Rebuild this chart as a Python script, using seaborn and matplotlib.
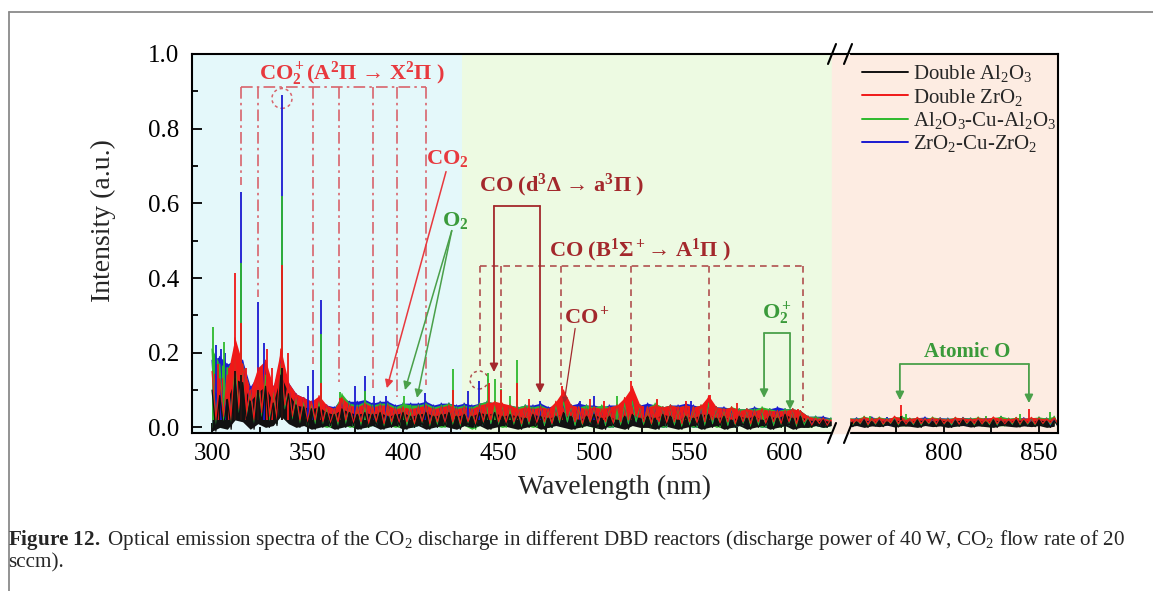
import numpy as np
import pandas as pd
import matplotlib
matplotlib.use('Agg')
import matplotlib.pyplot as plt
from matplotlib.lines import Line2D
from matplotlib.patches import Ellipse, Rectangle
from matplotlib.ticker import MultipleLocator, FixedLocator
import seaborn as sns

sns.set_theme(style='ticks')
plt.rcParams['font.family'] = ['Liberation Serif', 'DejaVu Serif']
plt.rcParams['mathtext.fontset'] = 'custom'
plt.rcParams['mathtext.rm'] = 'Liberation Serif'
plt.rcParams['mathtext.it'] = 'Liberation Serif:italic'
plt.rcParams['mathtext.bf'] = 'Liberation Serif:bold'
plt.rcParams['mathtext.default'] = 'regular'

# ---- data ----
# continuum sampling grid: 300-624 nm window, then 750-858 nm window
wl_grid = np.concatenate([np.arange(300, 625, 4), np.arange(750, 859, 4)])

reactors = ['Double Al$_2$O$_3$', 'Double ZrO$_2$',
            'Al$_2$O$_3$-Cu-Al$_2$O$_3$', 'ZrO$_2$-Cu-ZrO$_2$']
colors = ['#111111', '#f01818', '#2db92d', '#1a1ad0']

# upper / lower edge of the noise band, per reactor
black_hi = [0.10, 0.085, 0.075, 0.13, 0.12, 0.07, 0.095, 0.11, 0.065, 0.14,
            0.09, 0.06, 0.055, 0.05, 0.055, 0.04, 0.035, 0.05, 0.04, 0.035,
            0.04, 0.035, 0.04, 0.03, 0.035, 0.04, 0.03, 0.035, 0.04, 0.03,
            0.035, 0.04, 0.03, 0.035, 0.03, 0.04, 0.035, 0.04, 0.03, 0.035,
            0.03, 0.025, 0.035, 0.03, 0.025, 0.03, 0.04, 0.03, 0.02, 0.03,
            0.035, 0.025, 0.03, 0.02, 0.03, 0.035, 0.025, 0.03, 0.025, 0.035,
            0.03, 0.02, 0.03, 0.025, 0.035, 0.035, 0.025, 0.03, 0.02, 0.03,
            0.025, 0.03, 0.02, 0.03, 0.025, 0.035, 0.025, 0.03, 0.02, 0.018,
            0.02, 0.015,
            0.018, 0.015, 0.02, 0.016, 0.018, 0.015, 0.02, 0.017, 0.015, 0.02,
            0.018, 0.016, 0.02, 0.015, 0.018, 0.02, 0.016, 0.018, 0.015, 0.02,
            0.017, 0.016, 0.02, 0.018, 0.015, 0.02, 0.017, 0.018]
black_lo = [-0.01, 0.0, -0.005, 0.02, 0.015, -0.005, 0.01, 0.0, 0.005, 0.03,
            0.01, 0.0, 0.005, -0.005, 0.0, 0.005, -0.005, 0.0, 0.005, -0.005,
            0.0, 0.005, -0.005, 0.0, 0.005, -0.005, 0.0, 0.005, -0.005, 0.0,
            0.005, 0.0, -0.005, 0.005, 0.0, 0.005, -0.005, 0.0, 0.005, 0.0,
            -0.005, 0.0, 0.005, -0.005, 0.0, 0.005, 0.0, -0.005, 0.0, 0.005,
            0.0, -0.005, 0.005, 0.0, -0.005, 0.005, 0.0, 0.0, -0.005, 0.005,
            0.0, -0.005, 0.0, 0.005, -0.005, 0.0, 0.005, -0.005, 0.0, 0.005,
            -0.005, 0.0, 0.005, -0.005, 0.0, 0.005, -0.005, 0.0, 0.0, 0.005,
            0.0, 0.005,
            0.002, 0.005, 0.0, 0.004, 0.002, 0.006, 0.001, 0.004, 0.003, 0.0,
            0.005, 0.002, 0.004, 0.0, 0.003, 0.005, 0.001, 0.004, 0.002, 0.0,
            0.005, 0.003, 0.001, 0.004, 0.002, 0.005, 0.0, 0.003]

red_hi = [0.15, 0.13, 0.14, 0.24, 0.17, 0.10, 0.16, 0.18, 0.11, 0.21,
          0.12, 0.09, 0.08, 0.07, 0.085, 0.06, 0.05, 0.08, 0.06, 0.055,
          0.065, 0.055, 0.06, 0.06, 0.05, 0.055, 0.05, 0.055, 0.06, 0.05,
          0.055, 0.06, 0.05, 0.055, 0.05, 0.06, 0.065, 0.07, 0.065, 0.06,
          0.05, 0.055, 0.05, 0.055, 0.05, 0.07, 0.10, 0.06, 0.055, 0.05,
          0.055, 0.05, 0.055, 0.06, 0.08, 0.11, 0.06, 0.055, 0.06, 0.055,
          0.06, 0.055, 0.06, 0.055, 0.06, 0.085, 0.055, 0.05, 0.055, 0.045,
          0.05, 0.045, 0.05, 0.045, 0.045, 0.045, 0.05, 0.045, 0.03, 0.025,
          0.025, 0.02,
          0.025, 0.022, 0.028, 0.024, 0.026, 0.022, 0.03, 0.025, 0.024, 0.027,
          0.023, 0.026, 0.024, 0.022, 0.027, 0.025, 0.023, 0.026, 0.024, 0.028,
          0.025, 0.023, 0.026, 0.024, 0.027, 0.025, 0.023, 0.026]
red_lo = [0.02, 0.03, 0.02, 0.05, 0.04, 0.02, 0.04, 0.03, 0.02, 0.06,
          0.03, 0.02, 0.015, 0.02, 0.015, 0.01, 0.015, 0.02, 0.01, 0.015,
          0.01, 0.015, 0.01, 0.015, 0.01, 0.015, 0.01, 0.015, 0.01, 0.015,
          0.01, 0.015, 0.01, 0.015, 0.01, 0.015, 0.02, 0.015, 0.01, 0.015,
          0.01, 0.015, 0.01, 0.015, 0.01, 0.02, 0.03, 0.015, 0.01, 0.015,
          0.01, 0.015, 0.01, 0.015, 0.02, 0.03, 0.015, 0.01, 0.015, 0.01,
          0.015, 0.01, 0.015, 0.01, 0.015, 0.02, 0.01, 0.015, 0.01, 0.015,
          0.01, 0.015, 0.01, 0.015, 0.01, 0.015, 0.01, 0.015, 0.005, 0.01,
          0.005, 0.01,
          0.01, 0.012, 0.008, 0.011, 0.009, 0.012, 0.01, 0.008, 0.011, 0.01,
          0.012, 0.009, 0.01, 0.011, 0.008, 0.012, 0.01, 0.009, 0.011, 0.01,
          0.008, 0.012, 0.01, 0.011, 0.009, 0.01, 0.012, 0.01]

green_hi = [0.21, 0.17, 0.16, 0.19, 0.17, 0.10, 0.13, 0.14, 0.10, 0.17,
            0.11, 0.08, 0.07, 0.065, 0.07, 0.055, 0.05, 0.09, 0.065, 0.06,
            0.07, 0.06, 0.065, 0.065, 0.055, 0.065, 0.06, 0.06, 0.065, 0.055,
            0.06, 0.065, 0.055, 0.06, 0.055, 0.065, 0.07, 0.065, 0.06, 0.06,
            0.055, 0.06, 0.055, 0.06, 0.05, 0.06, 0.07, 0.06, 0.055, 0.06,
            0.055, 0.06, 0.055, 0.06, 0.065, 0.07, 0.06, 0.055, 0.065, 0.055,
            0.06, 0.055, 0.06, 0.055, 0.06, 0.065, 0.055, 0.05, 0.055, 0.05,
            0.05, 0.05, 0.055, 0.05, 0.045, 0.05, 0.05, 0.045, 0.03, 0.03,
            0.025, 0.025,
            0.026, 0.024, 0.03, 0.025, 0.028, 0.024, 0.027, 0.03, 0.025, 0.026,
            0.024, 0.028, 0.025, 0.024, 0.027, 0.026, 0.025, 0.028, 0.024, 0.026,
            0.03, 0.025, 0.027, 0.024, 0.026, 0.028, 0.025, 0.03]
green_lo = [0.0, 0.02, 0.01, 0.04, 0.03, 0.01, 0.03, 0.02, 0.01, 0.05,
            0.02, 0.01, 0.005, 0.01, 0.005, 0.0, 0.005, 0.01, 0.0, 0.005,
            0.0, 0.005, 0.0, 0.005, 0.0, 0.005, 0.0, 0.005, 0.0, 0.005,
            0.0, 0.005, 0.0, 0.005, -0.005, 0.005, 0.01, 0.005, 0.0, 0.005,
            0.0, 0.005, 0.0, 0.005, 0.0, 0.01, 0.015, 0.005, 0.0, 0.005,
            0.0, 0.005, 0.0, 0.005, 0.01, 0.015, 0.005, 0.0, 0.005, 0.0,
            0.005, 0.0, 0.005, 0.0, 0.005, 0.01, 0.0, 0.005, 0.0, 0.005,
            0.0, 0.005, 0.0, 0.005, 0.0, 0.005, 0.0, 0.005, 0.0, 0.005,
            0.0, 0.005,
            0.006, 0.008, 0.004, 0.007, 0.005, 0.008, 0.006, 0.004, 0.007, 0.006,
            0.008, 0.005, 0.006, 0.007, 0.004, 0.008, 0.006, 0.005, 0.007, 0.006,
            0.004, 0.008, 0.006, 0.007, 0.005, 0.006, 0.008, 0.006]

blue_hi = [0.18, 0.19, 0.17, 0.18, 0.18, 0.11, 0.14, 0.16, 0.11, 0.18,
           0.12, 0.09, 0.08, 0.07, 0.075, 0.06, 0.055, 0.08, 0.07, 0.07,
           0.075, 0.065, 0.07, 0.07, 0.06, 0.065, 0.065, 0.065, 0.07, 0.06,
           0.065, 0.065, 0.06, 0.065, 0.06, 0.065, 0.07, 0.065, 0.06, 0.06,
           0.055, 0.06, 0.06, 0.065, 0.055, 0.06, 0.065, 0.06, 0.065, 0.06,
           0.06, 0.055, 0.06, 0.06, 0.065, 0.07, 0.06, 0.065, 0.06, 0.055,
           0.06, 0.06, 0.065, 0.06, 0.055, 0.065, 0.055, 0.055, 0.05, 0.05,
           0.05, 0.055, 0.05, 0.05, 0.055, 0.05, 0.05, 0.045, 0.03, 0.03,
           0.03, 0.025,
           0.024, 0.026, 0.025, 0.028, 0.024, 0.026, 0.025, 0.027, 0.024, 0.026,
           0.028, 0.024, 0.026, 0.025, 0.024, 0.027, 0.025, 0.024, 0.026, 0.025,
           0.027, 0.024, 0.025, 0.026, 0.024, 0.027, 0.025, 0.026]
blue_lo = [0.01, 0.03, 0.01, 0.04, 0.03, 0.01, 0.03, 0.02, 0.01, 0.05,
           0.02, 0.01, 0.01, 0.01, 0.005, 0.005, 0.005, 0.01, 0.005, 0.005,
           0.005, 0.005, 0.0, 0.005, 0.005, 0.005, 0.0, 0.005, 0.005, 0.005,
           0.005, 0.005, 0.0, 0.005, 0.0, 0.005, 0.01, 0.005, 0.005, 0.005,
           0.0, 0.005, 0.005, 0.005, 0.0, 0.01, 0.015, 0.005, 0.005, 0.005,
           0.005, 0.005, 0.0, 0.005, 0.01, 0.015, 0.005, 0.005, 0.005, 0.0,
           0.005, 0.005, 0.005, 0.0, 0.005, 0.01, 0.005, 0.005, 0.0, 0.005,
           0.005, 0.005, 0.0, 0.005, 0.005, 0.005, 0.0, 0.005, 0.005, 0.005,
           0.0, 0.005,
           0.007, 0.006, 0.008, 0.005, 0.007, 0.006, 0.008, 0.006, 0.005, 0.007,
           0.006, 0.008, 0.005, 0.007, 0.006, 0.005, 0.008, 0.006, 0.007, 0.005,
           0.006, 0.008, 0.007, 0.005, 0.006, 0.007, 0.005, 0.006]

# emission lines (wavelength nm, peak intensity)
black_pk_wl = [312.0, 315.2, 324.3, 336.6, 777.2]
black_pk_h = [0.15, 0.14, 0.10, 0.16, 0.03]
red_pk_wl = [303.0, 309.0, 312.0, 315.2, 318.0, 324.3, 329.0, 331.5, 336.6,
             339.5, 357.2, 367.0, 426.4, 445.0, 451.2, 459.6, 466.0, 483.1,
             498.0, 505.0, 519.4, 533.0, 548.0, 560.7, 575.0, 607.0, 777.2, 844.6]
red_pk_h = [0.17, 0.16, 0.414, 0.28, 0.16, 0.15, 0.21, 0.16, 0.435,
            0.2, 0.12, 0.08, 0.10, 0.12, 0.10, 0.12, 0.075, 0.11,
            0.075, 0.07, 0.123, 0.075, 0.072, 0.087, 0.065, 0.048, 0.059, 0.05]
green_pk_wl = [300.3, 306.0, 315.2, 336.6, 357.2, 367.0, 380.0, 400.7, 403.7,
               426.4, 444.7, 447.9, 451.2, 456.0, 459.6, 511.9, 532.8, 588.6,
               761.0, 780.0, 822.0, 840.0, 856.0]
green_pk_h = [0.27, 0.23, 0.44, 0.62, 0.25, 0.096, 0.097, 0.083, 0.061,
              0.157, 0.147, 0.13, 0.103, 0.084, 0.181, 0.083, 0.074, 0.05,
              0.03, 0.035, 0.03, 0.035, 0.04]
blue_pk_wl = [302.0, 304.5, 307.0, 315.2, 324.3, 327.0, 336.6, 350.0, 353.0,
              357.2, 374.6, 380.0, 385.0, 391.0, 411.5, 434.2, 439.8, 471.8,
              492.7, 500.2, 526.7, 551.0, 770.0, 830.0]
blue_pk_h = [0.22, 0.21, 0.20, 0.63, 0.337, 0.225, 0.89, 0.11, 0.155,
             0.34, 0.11, 0.137, 0.083, 0.085, 0.092, 0.097, 0.124, 0.07,
             0.07, 0.083, 0.057, 0.07, 0.028, 0.03]

# band-assignment markers
co2p_wl = [315.2, 324.3, 336.6, 352.9, 366.6, 384.2, 397.0, 412.0]
co2p_end = [0.65, 0.35, 0.905, 0.171, 0.122, 0.105, 0.082, 0.113]
co_ba_wl = [440.3, 451.3, 482.7, 519.4, 560.2, 609.4]
co_ba_end = [0.153, 0.105, 0.113, 0.135, 0.092, 0.052]
co_da_wl = [447.6, 471.7]
co_da_end = [0.148, 0.092]
o2p_wl = [589.0, 602.6]
o2p_end = [0.079, 0.047]
atomic_o_wl = [776.8, 844.7]
atomic_o_end = [0.073, 0.065]


def zigzag(hi, lo):
    x = np.column_stack([wl_grid, wl_grid + 2]).ravel()
    y = np.column_stack([hi, lo]).ravel()
    return pd.DataFrame({'wavelength': x, 'intensity': y})


W, H = 1153, 591
fig = plt.figure(figsize=(W / 100, H / 100), dpi=100)
fig.patch.set_facecolor('white')


def fx(px):
    return px / W


def fy(py):
    return 1 - py / H


bottom, height = fy(433), (433 - 54) / H
axL = fig.add_axes([fx(192), bottom, fx(833) - fx(192), height])
axR = fig.add_axes([fx(848), bottom, fx(1058) - fx(848), height])

# background shading
fig.patches.append(Rectangle((fx(832), bottom), fx(849) - fx(832), height,
                             transform=fig.transFigure, color='#fdece2', zorder=0))
axL.axvspan(289.5, 431, color='#e4f8fa', zorder=0, lw=0)
axL.axvspan(431, 626, color='#edfae2', zorder=0, lw=0)
axR.axvspan(740, 870, color='#fdece2', zorder=0, lw=0)

series = [
    (blue_hi, blue_lo, blue_pk_wl, blue_pk_h, colors[3]),
    (green_hi, green_lo, green_pk_wl, green_pk_h, colors[2]),
    (red_hi, red_lo, red_pk_wl, red_pk_h, colors[1]),
    (black_hi, black_lo, black_pk_wl, black_pk_h, colors[0]),
]
for ax in (axL, axR):
    for hi, lo, pw, ph, c in series:
        ax.fill_between(wl_grid, lo, hi, color=c, lw=0)
        sns.lineplot(data=zigzag(hi, lo), x='wavelength', y='intensity', ax=ax,
                     color=c, lw=0.9, sort=False, estimator=None)
        ax.vlines(pw, 0.02, ph, color=c, lw=1.3)
    ax.set_xlabel('')
    ax.set_ylabel('')
    ax.set_ylim(-0.015, 1.0)
    for s in ax.spines.values():
        s.set_linewidth(1.5)
        s.set_color('black')
    ax.tick_params(axis='both', which='both', direction='in', labelsize=18,
                   width=1.3, colors='black')
    ax.tick_params(which='major', length=7)
    ax.tick_params(which='minor', length=4)

axL.set_xlim(289.5, 625.1)
axL.xaxis.set_major_locator(MultipleLocator(50))
axL.xaxis.set_minor_locator(MultipleLocator(25))
axL.yaxis.set_major_locator(MultipleLocator(0.2))
axL.yaxis.set_minor_locator(MultipleLocator(0.1))
axL.yaxis.set_major_formatter(plt.FormatStrFormatter('%.1f'))
axL.spines['right'].set_visible(False)
axL.tick_params(axis='y', pad=9)
axL.tick_params(axis='x', pad=7)

axR.set_xlim(749.5, 860)
axR.xaxis.set_major_locator(FixedLocator([800, 850]))
axR.xaxis.set_minor_locator(FixedLocator([775, 825]))
axR.spines['left'].set_visible(False)
axR.tick_params(axis='y', which='both', left=False, labelleft=False)
axR.tick_params(axis='x', pad=7)

# top spine across the break, and the break slashes
fig.add_artist(Line2D([fx(833), fx(848)], [fy(54), fy(54)], color='black', lw=1.5))
for x0 in (832, 848):
    for y0 in (54, 433):
        fig.add_artist(Line2D([fx(x0 - 4), fx(x0 + 4)], [fy(y0 + 10), fy(y0 - 10)],
                              color='black', lw=1.5))

# ---- annotations ----
c_ion, c_ion_ln = '#e8393e', '#d8646c'
c_co, c_co_ln = '#a3282c', '#b0504f'
c_o, c_o_ln = '#3a9a3a', '#4aa04a'
dashdot = (0, (7, 2.5, 1.5, 2.5))
arw = dict(arrowstyle='-|>', mutation_scale=12, shrinkA=0, shrinkB=0)

axL.text(373.3, 0.948, 'CO$_2^+$(A$^2$Π → X$^2$Π )', color=c_ion, fontsize=16,
         fontweight='bold', ha='center', va='center')
axL.plot([co2p_wl[0], co2p_wl[-1]], [0.911, 0.911], color=c_ion_ln, lw=1.2, ls=dashdot)
for w, e in zip(co2p_wl, co2p_end):
    axL.plot([w, w], [0.911, e], color=c_ion_ln, lw=1.2, ls=dashdot)
axL.add_patch(Ellipse((336.6, 0.881), 10.5, 0.053, fill=False, ls=(0, (2, 2)),
                      color=c_ion_ln, lw=1.1))

axL.text(423, 0.721, 'CO$_2$', color=c_ion, fontsize=16, fontweight='bold',
         ha='center', va='center')
axL.annotate('', xy=(391.5, 0.105), xytext=(422.5, 0.685),
             arrowprops=dict(arw, color=c_ion, lw=1.1))

axL.text(427.2, 0.553, 'O$_2$', color=c_o, fontsize=16, fontweight='bold',
         ha='center', va='center')
for tip in [(401.0, 0.10), (407.3, 0.079)]:
    axL.annotate('', xy=tip, xytext=(425.5, 0.527),
                 arrowprops=dict(arw, color=c_o_ln, lw=1.1))

axL.text(483.2, 0.647, 'CO (d$^3$Δ → a$^3$Π )', color=c_co, fontsize=16,
         fontweight='bold', ha='center', va='center')
axL.plot(co_da_wl, [0.593, 0.593], color=c_co, lw=1.3)
for w, e in zip(co_da_wl, co_da_end):
    axL.annotate('', xy=(w, e), xytext=(w, 0.593),
                 arrowprops=dict(arw, color=c_co, lw=1.3))

axL.text(524.1, 0.473, 'CO (B$^1$Σ$^+$→ A$^1$Π )', color=c_co, fontsize=16,
         fontweight='bold', ha='center', va='center')
axL.plot([co_ba_wl[0], co_ba_wl[-1]], [0.431, 0.431], color=c_co_ln, lw=1.2,
         ls=(0, (4, 3)))
for w, e in zip(co_ba_wl, co_ba_end):
    axL.plot([w, w], [0.431, e], color=c_co_ln, lw=1.2, ls=(0, (4, 3)))
axL.add_patch(Ellipse((439.8, 0.127), 9.4, 0.048, fill=False, ls=(0, (2, 2)),
                      color=c_co_ln, lw=1.1))

axL.text(496.3, 0.295, 'CO$^+$', color=c_co, fontsize=16, fontweight='bold',
         ha='center', va='center')
axL.annotate('', xy=(484.3, 0.065), xytext=(490.1, 0.265),
             arrowprops=dict(arw, color=c_co, lw=0.9, mutation_scale=8))

axL.text(595.8, 0.305, 'O$_2^+$', color=c_o, fontsize=16, fontweight='bold',
         ha='center', va='center')
axL.plot(o2p_wl, [0.252, 0.252], color=c_o_ln, lw=1.3)
for w, e in zip(o2p_wl, o2p_end):
    axL.annotate('', xy=(w, e), xytext=(w, 0.252),
                 arrowprops=dict(arw, color=c_o_ln, lw=1.3))

axR.text(812.1, 0.201, 'Atomic O', color=c_o, fontsize=15, fontweight='bold',
         ha='center', va='center')
axR.plot(atomic_o_wl, [0.169, 0.169], color=c_o_ln, lw=1.3)
for w, e in zip(atomic_o_wl, atomic_o_end):
    axR.annotate('', xy=(w, e), xytext=(w, 0.169),
                 arrowprops=dict(arw, color=c_o_ln, lw=1.3))

# legend
handles = [Line2D([], [], color=c, lw=1.4) for c in colors]
fig.legend(handles, reactors, loc='upper left', bbox_to_anchor=(fx(862), fy(63)),
           frameon=False, fontsize=15, handlelength=2.2, handletextpad=0.25,
           labelspacing=0.12, borderpad=0, borderaxespad=0)

# axis titles
fig.text(fx(615), fy(487), 'Wavelength (nm)', fontsize=20, ha='center', va='center')
fig.text(fx(103), fy(221), 'Intensity (a.u.)', fontsize=20, ha='center', va='center',
         rotation=90)

# caption and page frame
fig.text(fx(8), fy(540), r'$\mathbf{Figure\ 12.}$ Optical emission spectra of the CO$_2$ '
         'discharge in different DBD reactors (discharge power of 40 W, CO$_2$ flow rate of 20',
         fontsize=15.2, ha='left', va='center')
fig.text(fx(8), fy(563), 'sccm).', fontsize=15.2, ha='left', va='center')
fig.add_artist(Line2D([fx(9), 1], [fy(12), fy(12)], color='#8a8a8a', lw=1.3))
fig.add_artist(Line2D([fx(9), fx(9)], [fy(12), 0], color='#8a8a8a', lw=1.3))

fig.savefig('out.png', dpi=100)
